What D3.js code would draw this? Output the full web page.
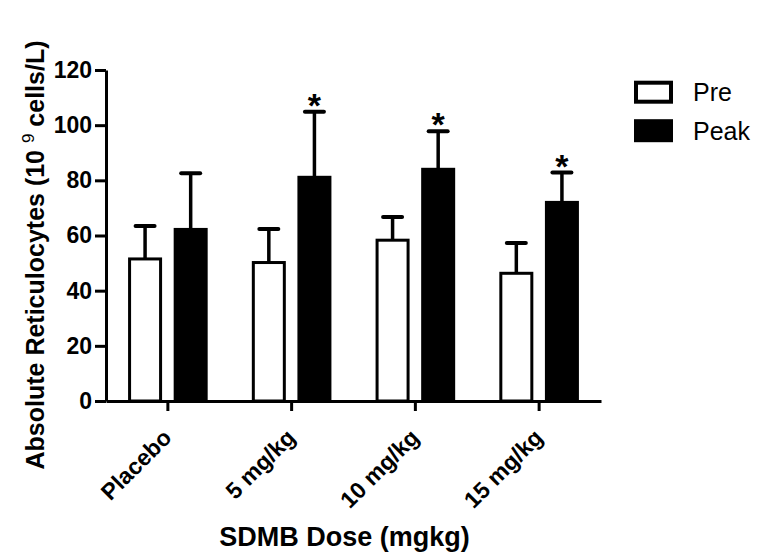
<!DOCTYPE html>
<html>
<head>
<meta charset="utf-8">
<script src="https://cdn.jsdelivr.net/npm/d3@7"></script>
<style>
  html, body { margin: 0; padding: 0; background: #fff; }
  svg { display: block; }
  text { font-family: Arial, "Liberation Sans", Helvetica, sans-serif; fill: #000; }
</style>
</head>
<body>
<svg id="chart" width="762" height="558"></svg>
<script>
const categories = ["Placebo", "5 mg/kg", "10 mg/kg", "15 mg/kg"];
const series = ["Pre", "Peak"];
const preMeans = [51.5, 50.2, 58.3, 46.3];
const preErr = [11.9, 12.2, 8.4, 11.0];
const peakMeans = [62.2, 81.1, 84.0, 72.0];
const peakErr = [20.4, 23.8, 13.8, 10.8];
const significant = [false, true, true, true];
const yTicks = [0, 20, 40, 60, 80, 100, 120];
const xTitle = "SDMB Dose (mgkg)";

const svg = d3.select("#chart");
const mLeft = 106, mRight = 601, mTop = 70, mBottom = 401;

const x = d3.scaleBand().domain(categories).range([mLeft, mRight]).paddingInner(0).paddingOuter(0);
const bw = x.bandwidth();
const x1 = d3.scaleBand().domain(series)
  .range([bw / 2 - 38.3, bw / 2 + 38.3]).paddingInner(0.32).paddingOuter(0);
const y = d3.scaleLinear().domain([0, 120]).range([mBottom, mTop]);

const rows = [];
categories.forEach((c, i) => {
  rows.push({cat: c, s: "Pre", v: preMeans[i], e: preErr[i], sig: false});
  rows.push({cat: c, s: "Peak", v: peakMeans[i], e: peakErr[i], sig: significant[i]});
});

const g = svg.append("g");
const bars = g.selectAll("g.bar").data(rows).enter().append("g")
  .attr("transform", d => `translate(${x(d.cat) + x1(d.s)},0)`);
const barW = x1.bandwidth();

bars.append("line")
  .attr("x1", barW / 2).attr("x2", barW / 2)
  .attr("y1", d => y(d.v)).attr("y2", d => y(d.v + d.e))
  .attr("stroke", "#000").attr("stroke-width", 3.5);
bars.append("line")
  .attr("x1", barW / 2 - 9.5).attr("x2", barW / 2 + 9.5)
  .attr("y1", d => y(d.v + d.e)).attr("y2", d => y(d.v + d.e))
  .attr("stroke", "#000").attr("stroke-width", 4).attr("stroke-linecap", "round");

bars.append("rect")
  .attr("x", 0).attr("width", barW)
  .attr("y", d => y(d.v)).attr("height", d => y(0) - y(d.v))
  .attr("fill", d => d.s === "Pre" ? "#fff" : "#000")
  .attr("stroke", "#000").attr("stroke-width", 3);

bars.filter(d => d.sig).append("text")
  .attr("x", barW / 2).attr("y", d => y(d.v + d.e) + 5)
  .attr("text-anchor", "middle")
  .style("font-size", "34px").style("font-weight", "bold")
  .text("*");

const yAxis = g.append("g").attr("transform", `translate(${mLeft},0)`)
  .call(d3.axisLeft(y).tickValues(yTicks).tickSize(11).tickSizeOuter(0).tickPadding(3));
yAxis.select(".domain").attr("stroke-width", 3);
yAxis.selectAll(".tick line").attr("stroke-width", 3);
yAxis.selectAll(".tick text").style("font-size", "23px").style("font-weight", "bold")
  .style("font-family", "Arial, 'Liberation Sans', sans-serif");

const xAxis = g.append("g").attr("transform", `translate(0,${mBottom})`)
  .call(d3.axisBottom(x).tickSize(10).tickSizeOuter(0));
xAxis.select(".domain").attr("stroke-width", 3);
xAxis.selectAll(".tick line").attr("stroke-width", 3);
xAxis.selectAll(".tick text")
  .attr("x", 0).attr("y", 0).attr("dy", 0)
  .attr("transform", "translate(5,38) rotate(-45)")
  .attr("text-anchor", "end")
  .style("font-size", "23px").style("font-weight", "bold")
  .style("font-family", "Arial, 'Liberation Sans', sans-serif");

svg.append("text")
  .attr("x", (mLeft + mRight) / 2 - 9).attr("y", 546)
  .attr("text-anchor", "middle")
  .style("font-size", "27px").style("font-weight", "bold")
  .text(xTitle);

const yt = svg.append("text")
  .attr("transform", "translate(44,255) rotate(-90)")
  .attr("text-anchor", "middle")
  .style("font-size", "25px").style("font-weight", "bold");
yt.append("tspan").text("Absolute Reticulocytes (10 ");
yt.append("tspan").attr("dy", -10).style("font-size", "17px").style("font-weight", "normal").text("9");
yt.append("tspan").attr("dy", 10).text(" cells/L)");

const leg = svg.append("g").selectAll("g").data(series).enter().append("g")
  .attr("transform", (d, i) => `translate(636,${82.7 + i * 38.5})`);
leg.append("rect").attr("width", 35).attr("height", 19)
  .attr("fill", d => d === "Pre" ? "#fff" : "#000")
  .attr("stroke", "#000").attr("stroke-width", 4);
leg.append("text").attr("x", 57).attr("y", 18.5)
  .style("font-size", "25px").text(d => d);
</script>
</body>
</html>
